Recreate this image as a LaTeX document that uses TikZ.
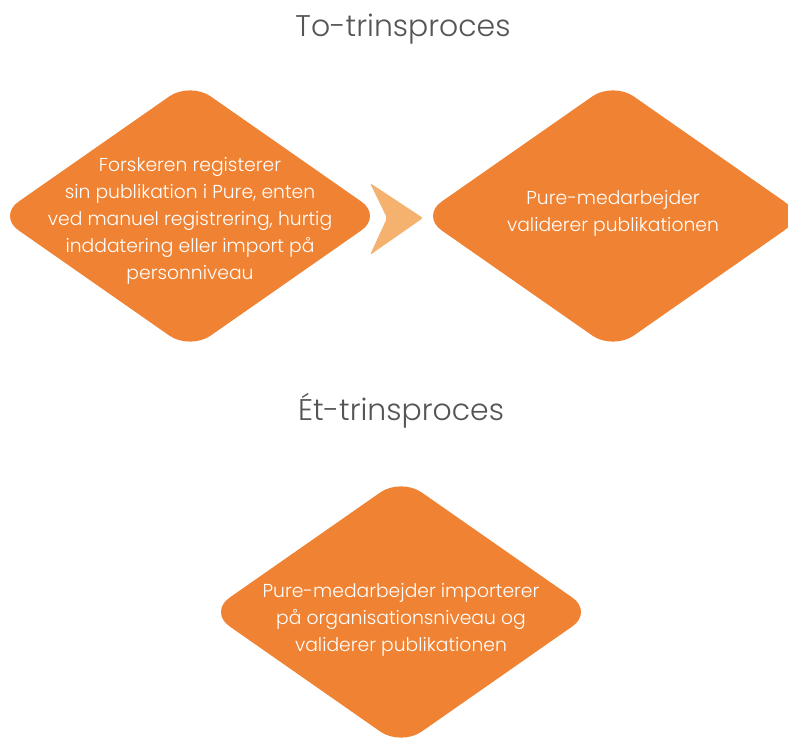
\documentclass[tikz,border=0pt]{standalone}
\usepackage{fontspec}
\setmainfont{Poppins Light}
\definecolor{pureorange}{HTML}{EF8333}
\definecolor{chevronorange}{HTML}{F5B26F}
\definecolor{titlegrey}{HTML}{555555}
\begin{document}
\begin{tikzpicture}
[x=1bp,y=1bp,
 title/.style={text=titlegrey,font=\fontsize{30}{36}\selectfont},
 stepfill/.style={fill=pureorange,rounded corners=25bp},
 steptext/.style={text=white,align=center,inner sep=0pt,
   font=\fontsize{18.8}{27}\selectfont}]
\useasboundingbox (0,0) rectangle (788,738);
% titles
\node[title] (twostep) at (403,709) {To-trinsproces};
\node[title] (onestep) at (401,327) {Ét-trinsproces};
% diamond centres
\coordinate (c1) at (190,522);
\coordinate (c2) at (613,522);
\coordinate (c3) at (401,126);
\foreach \c in {c1,c2,c3}
  \fill[stepfill] (\c) ++(-192,0) -- ++(192,134) -- ++(192,-134)
    -- ++(-192,-134) -- cycle;
% chevron between the two steps
\fill[chevronorange,rounded corners=2bp]
  (370,555) -- (423,520) -- (370,483) -- (387,520) -- cycle;
\node[steptext] (register) at ([yshift=-5bp]c1)
  {Forskeren registerer\\sin publikation i Pure, enten\\ved manuel registrering, hurtig\\inddatering eller import på\\personniveau};
\node[steptext] (validate) at ([yshift=3bp]c2)
  {Pure-medarbejder\\validerer publikationen};
\node[steptext] (import) at ([yshift=-8bp]c3)
  {Pure-medarbejder importerer\\på organisationsniveau og\\validerer publikationen};
\end{tikzpicture}
\end{document}
